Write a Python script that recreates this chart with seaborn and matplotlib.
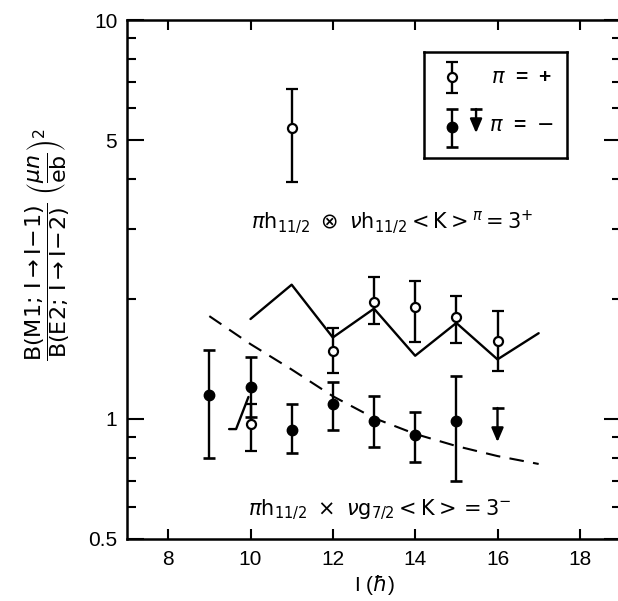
import matplotlib
matplotlib.use('Agg')
import matplotlib.pyplot as plt
import seaborn as sns
import numpy as np

# measured ratios, pi = +
spin_pos = [10, 11, 12, 13, 14, 15, 16]
ratio_pos = [0.97, 5.36, 1.48, 1.96, 1.91, 1.80, 1.57]
ratio_pos_hi = [1.09, 6.71, 1.69, 2.27, 2.22, 2.03, 1.86]
ratio_pos_lo = [0.83, 3.92, 1.30, 1.73, 1.56, 1.55, 1.32]

# measured ratios, pi = -
spin_neg = [9, 10, 11, 12, 13, 14, 15]
ratio_neg = [1.15, 1.20, 0.94, 1.09, 0.99, 0.91, 0.99]
ratio_neg_hi = [1.49, 1.43, 1.09, 1.24, 1.14, 1.04, 1.28]
ratio_neg_lo = [0.80, 1.01, 0.82, 0.94, 0.85, 0.78, 0.70]

# upper limit (pi = -)
limit_spin = [16]
limit_top = [1.065]
limit_tip = [0.875]

# calculations
calc_pos_spin = [10, 11, 12, 13, 14, 15, 16, 17]
calc_pos = [1.78, 2.17, 1.60, 1.89, 1.44, 1.74, 1.41, 1.64]
calc_short_spin = [9.48, 9.65, 9.95]
calc_short = [0.943, 0.943, 1.135]
calc_neg_spin = [9, 10, 11, 12, 13, 14, 15, 16, 17]
calc_neg = [1.81, 1.54, 1.33, 1.14, 1.005, 0.917, 0.855, 0.807, 0.771]

x_ticks = [8, 10, 12, 14, 16, 18]
y_ticks = [0.5, 1, 5, 10]
y_ticklabels = ['0.5', '1', '5', '10']
y_minor = [0.6, 0.7, 0.8, 0.9, 2, 3, 4, 6, 7, 8, 9]

sns.set_theme(style='ticks')
plt.rcParams['font.family'] = ['Liberation Sans', 'DejaVu Sans']
plt.rcParams['mathtext.fontset'] = 'dejavusans'
plt.rcParams['text.color'] = 'black'
plt.rcParams['axes.labelcolor'] = 'black'

fig = plt.figure(figsize=(6.18, 6.01), dpi=100)
ax = fig.add_axes([127 / 618, 1 - 539 / 601, 494 / 618, 519 / 601])
ax.set_yscale('log')

eb_kw = dict(ecolor='black', elinewidth=1.7, capsize=4.5, capthick=1.9, linestyle='none')

# theory curves
sns.lineplot(x=calc_pos_spin, y=calc_pos, ax=ax, color='black', lw=1.7, sort=False)
sns.lineplot(x=calc_short_spin, y=calc_short, ax=ax, color='black', lw=1.7, sort=False)
sns.lineplot(x=calc_neg_spin, y=calc_neg, ax=ax, color='black', lw=1.5, sort=False)
ax.lines[-1].set_dashes((7, 4.5))

# pi = - points
err_neg = [np.array(ratio_neg) - np.array(ratio_neg_lo), np.array(ratio_neg_hi) - np.array(ratio_neg)]
ax.errorbar(spin_neg, ratio_neg, yerr=err_neg, marker='o', ms=7.5, mfc='black', mec='black', **eb_kw)

# pi = + points
err_pos = [np.array(ratio_pos) - np.array(ratio_pos_lo), np.array(ratio_pos_hi) - np.array(ratio_pos)]
ax.errorbar(spin_pos, ratio_pos, yerr=err_pos, marker='o', ms=6.5, mfc='white', mec='black', mew=1.6, **eb_kw)

# upper limit
for s, top, tip in zip(limit_spin, limit_top, limit_tip):
    ax.annotate('', xy=(s, tip), xytext=(s, top),
                arrowprops=dict(arrowstyle='-|>,head_length=0.7,head_width=0.3', lw=1.7,
                                color='black', shrinkA=0, shrinkB=0))
ax.plot(limit_spin, limit_top, marker='_', ms=9, mew=1.9, color='black', ls='none')

ax.text(13.44, 3.11, r'$\pi\mathrm{h}_{11/2}\ \otimes\ \nu\mathrm{h}_{11/2}\mathrm{<K>}^{\pi}=3^{+}$',
        ha='center', va='center', fontsize=15, color='black')
ax.text(13.15, 0.59, r'$\pi\mathrm{h}_{11/2}\ \times\ \nu\mathrm{g}_{7/2}\mathrm{<K>}=3^{-}$',
        ha='center', va='center', fontsize=15, color='black')

ax.set_xlim(7, 19)
ax.set_ylim(0.5, 10)
ax.set_xticks(x_ticks)
ax.set_xticklabels([str(t) for t in x_ticks])
ax.set_yticks(y_ticks)
ax.set_yticklabels(y_ticklabels)
ax.set_yticks(y_minor, minor=True)
ax.yaxis.set_minor_formatter(matplotlib.ticker.NullFormatter())
ax.tick_params(axis='x', which='major', direction='in', length=7, width=1.5, top=True,
               labelsize=15, pad=8, colors='black')
ax.tick_params(axis='x', which='minor', bottom=False, top=False)
ax.tick_params(axis='y', which='major', direction='in', length=12, width=1.5, right=True,
               labelsize=15, pad=7, colors='black')
ax.tick_params(axis='y', which='minor', direction='in', length=6.5, width=1.5, right=True,
               colors='black')
for sp in ax.spines.values():
    sp.set_visible(True)
    sp.set_linewidth(1.8)
    sp.set_color('black')

ax.set_xlabel(r'I ($\hbar$)', fontsize=15, labelpad=3, color='black')
fig.text(48 / 618, 1 - 245 / 601,
         r'$\dfrac{\mathrm{B(M1;\,I\rightarrow I\!-\!1)}}{\mathrm{B(E2;\,I\rightarrow I\!-\!2)}}\ \left(\dfrac{\mu n}{\mathrm{eb}}\right)^{2}$',
         rotation=90, ha='center', va='center', fontsize=16, color='black')

# legend box
lg = fig.add_axes([424 / 618, 1 - 158 / 601, 143 / 618, 106 / 601])
lg.set_xlim(0, 1)
lg.set_ylim(0, 1)
lg.set_xticks([])
lg.set_yticks([])
for sp in lg.spines.values():
    sp.set_visible(True)
    sp.set_linewidth(1.8)
    sp.set_color('black')
lg.errorbar([0.196], [0.764], yerr=[[0.151], [0.142]], marker='o', ms=6.5, mfc='white',
            mec='black', mew=1.6, **eb_kw)
lg.errorbar([0.196], [0.292], yerr=[[0.188], [0.170]], marker='o', ms=7.5, mfc='black',
            mec='black', **eb_kw)
lg.annotate('', xy=(0.364, 0.235), xytext=(0.364, 0.462),
            arrowprops=dict(arrowstyle='-|>,head_length=0.7,head_width=0.3', lw=1.7,
                            color='black', shrinkA=0, shrinkB=0))
lg.plot([0.364], [0.462], marker='_', ms=9, mew=1.9, color='black')
lg.text(0.685, 0.764, r'$\pi$  =  +', ha='center', va='center', fontsize=15,
        fontweight='bold', color='black')
lg.text(0.685, 0.311, r'$\pi$  =  $-$', ha='center', va='center', fontsize=15,
        fontweight='bold', color='black')

fig.savefig('out.png', dpi=100)
